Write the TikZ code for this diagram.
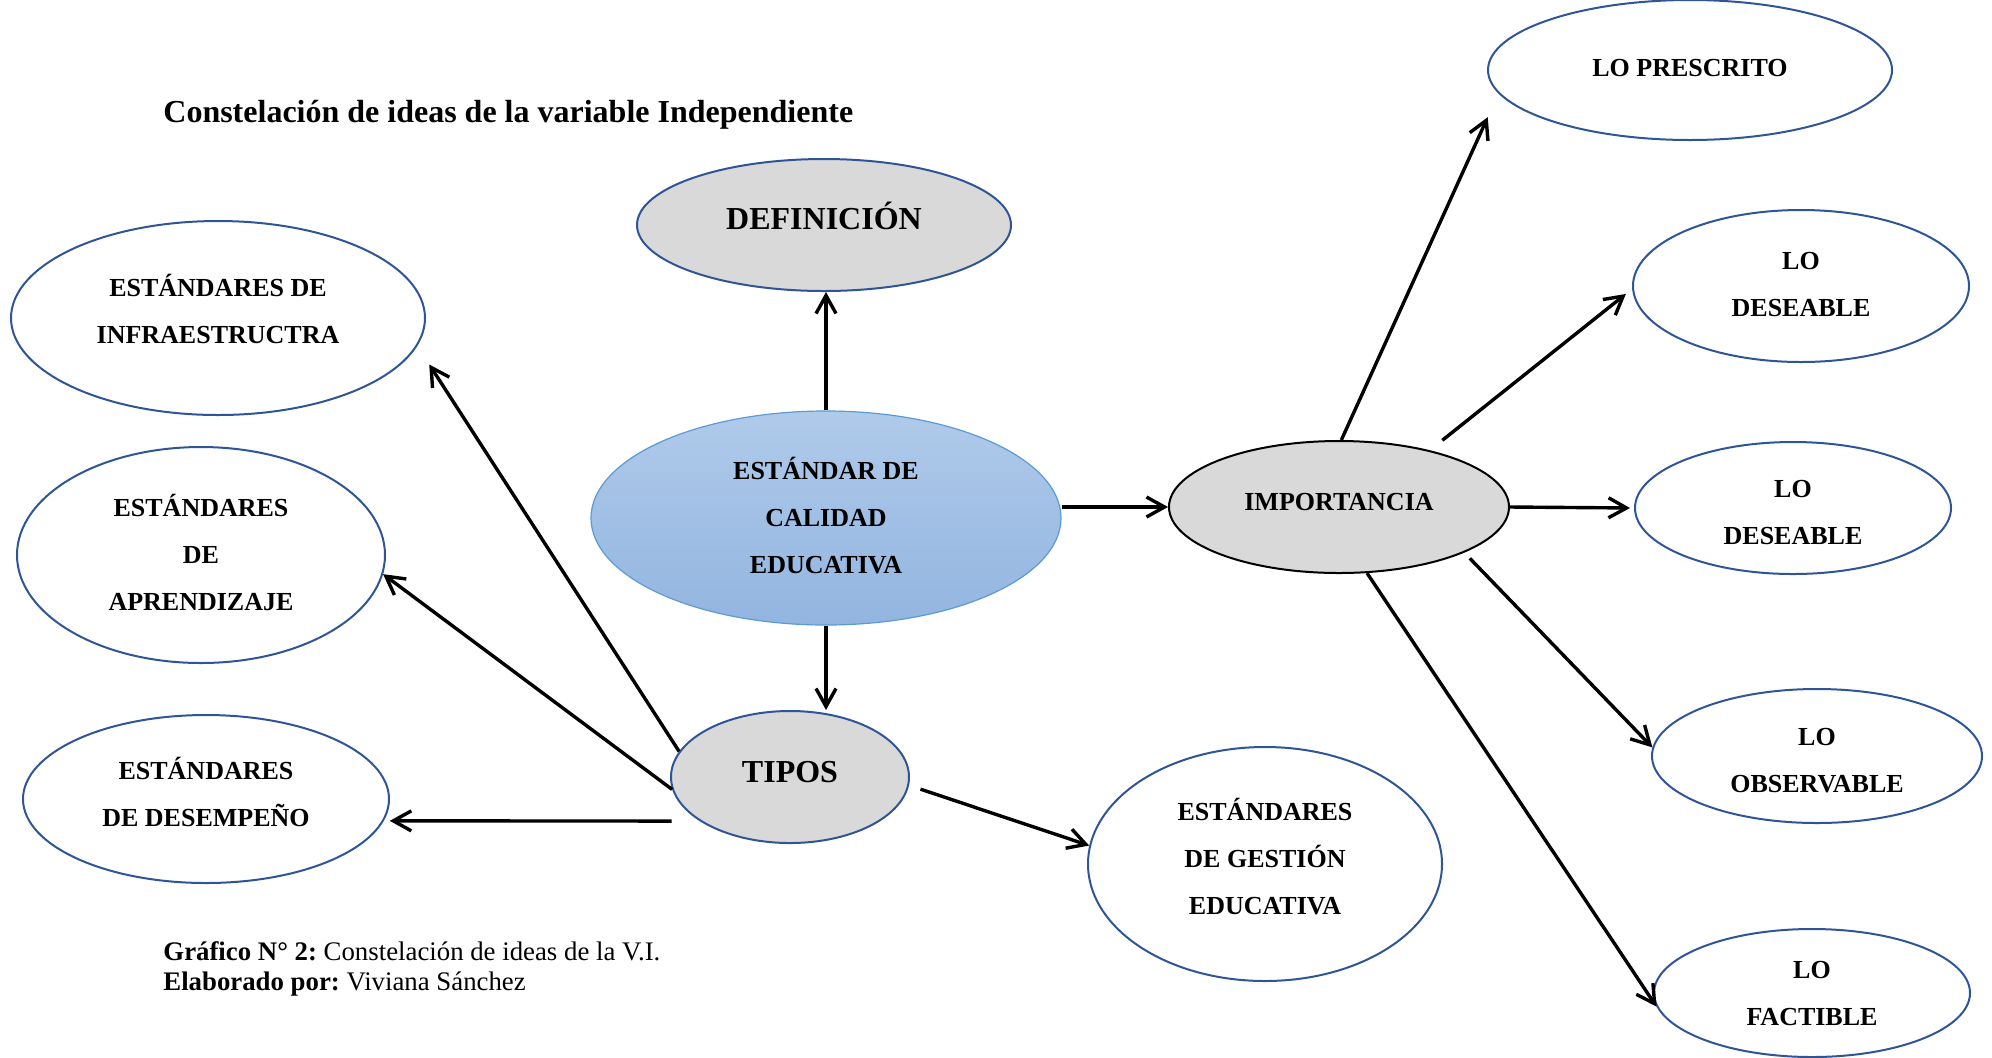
\documentclass[tikz,border=0pt]{standalone}
\usepackage{fontspec}
\setmainfont{Liberation Serif}
\usetikzlibrary{positioning,shapes.geometric,arrows.meta}
\definecolor{borde}{HTML}{2F5597}
\definecolor{gris}{HTML}{D9D9D9}
\definecolor{celesteA}{HTML}{B0CAEA}
\definecolor{celesteB}{HTML}{92B5E0}
\definecolor{celesteC}{HTML}{5B9BD5}

\begin{document}
\begin{tikzpicture}[x=0.5pt,y=-0.5pt,
    idea/.style={ellipse, draw=borde, line width=1pt, inner sep=0pt, align=center,
        font=\fontsize{13}{23.5}\selectfont\bfseries},
    relleno/.style={idea, fill=gris},
    flecha/.style={-{Straight Barb[length=9pt,width=10pt]}, line width=1.7pt}]
            \useasboundingbox (0,0) rectangle (1992,1057);

            %Titles
            \node[anchor=west, inner sep=0pt, font=\fontsize{16}{19}\selectfont\bfseries] at (163,115) (titulo) {Constelación de ideas de la variable Independiente};
            \node[anchor=north west, inner sep=0pt, align=left, font=\fontsize{13.4}{15.2}\selectfont\frenchspacing] at (163,941) (pie) {\textbf{Gráfico N° 2:} Constelación de ideas de la V.I.\\\textbf{Elaborado por:} Viviana Sánchez};

            %Nodes
            \node[idea, draw=celesteC, line width=0.6pt, top color=celesteA, bottom color=celesteB, minimum width=235pt, minimum height=107pt, text depth=3pt] at (826,518) (Cal) {ESTÁNDAR DE\\CALIDAD\\EDUCATIVA};
            \node[relleno, minimum width=187pt, minimum height=66pt, text depth=9pt, font=\fontsize{16}{19}\selectfont\bfseries] at (824,225) (Def) {DEFINICIÓN};
            \node[relleno, minimum width=119pt, minimum height=66pt, text depth=5pt, font=\fontsize{16}{19}\selectfont\bfseries] at (790,777) (Tip) {TIPOS};
            \node[relleno, draw=black, minimum width=170pt, minimum height=66pt, text depth=5pt] at (1339,507) (Imp) {IMPORTANCIA};

            \node[idea, minimum width=207pt, minimum height=97pt, text depth=9pt] at (218,318) (Inf) {ESTÁNDARES DE\\INFRAESTRUCTRA};
            \node[idea, minimum width=184pt, minimum height=108pt, text depth=2.5pt] at (201,555) (Apr) {ESTÁNDARES\\DE\\APRENDIZAJE};
            \node[idea, minimum width=183pt, minimum height=84pt, text depth=7.6pt] at (206,799) (Des) {ESTÁNDARES\\DE DESEMPEÑO};
            \node[idea, minimum width=177pt, minimum height=117pt, text depth=7.6pt] at (1265,864) (Ges) {ESTÁNDARES\\DE GESTIÓN\\EDUCATIVA};

            \node[idea, minimum width=202pt, minimum height=70pt, text depth=2.5pt] at (1690,70) (Pre) {LO PRESCRITO};
            \node[idea, minimum width=168pt, minimum height=76pt, text depth=2pt] at (1801,286) (Dsb) {LO\\DESEABLE};
            \node[idea, minimum width=158pt, minimum height=66pt, text height=36.5pt] at (1793,508) (Dsb2) {LO\\DESEABLE};
            \node[idea, minimum width=165pt, minimum height=67pt, text height=36.5pt] at (1817,756) (Obs) {LO\\OBSERVABLE};
            \node[idea, minimum width=158pt, minimum height=64pt] at (1812,993) (Fac) {LO\\FACTIBLE};

            %Lines
            \draw[flecha] (Cal.north) -- (Cal.north |- Def.south);
            \draw[flecha] (Cal.south) -- (Cal.south |- Tip.north);
            \draw[flecha] (Imp.west -| Cal.east) -- (Imp.west);
            \draw[flecha, shorten >=11pt] (Tip.167) -- (Inf.-8);
            \draw[flecha] (Tip.186) -- (Apr.-6);
            \draw[flecha, shorten <=14pt, shorten >=3pt] (Tip.206) -- (Des.-7);
            \draw[flecha, shorten <=6pt] (Tip.-4) -- (Ges.174);
            \draw[flecha, shorten >=13pt] (Imp.88) -- (Pre.187);
            \draw[flecha, shorten <=8pt, shorten >=4pt] (Imp.32) -- (Dsb.181);
            \draw[flecha, shorten >=2pt] (Imp.east) -- (Dsb2.west);
            \draw[flecha, shorten <=4pt] (Imp.-20) -- (Obs.177);
            \draw[flecha] (Imp.-67) -- (Fac.185);
        \end{tikzpicture}
\end{document}
